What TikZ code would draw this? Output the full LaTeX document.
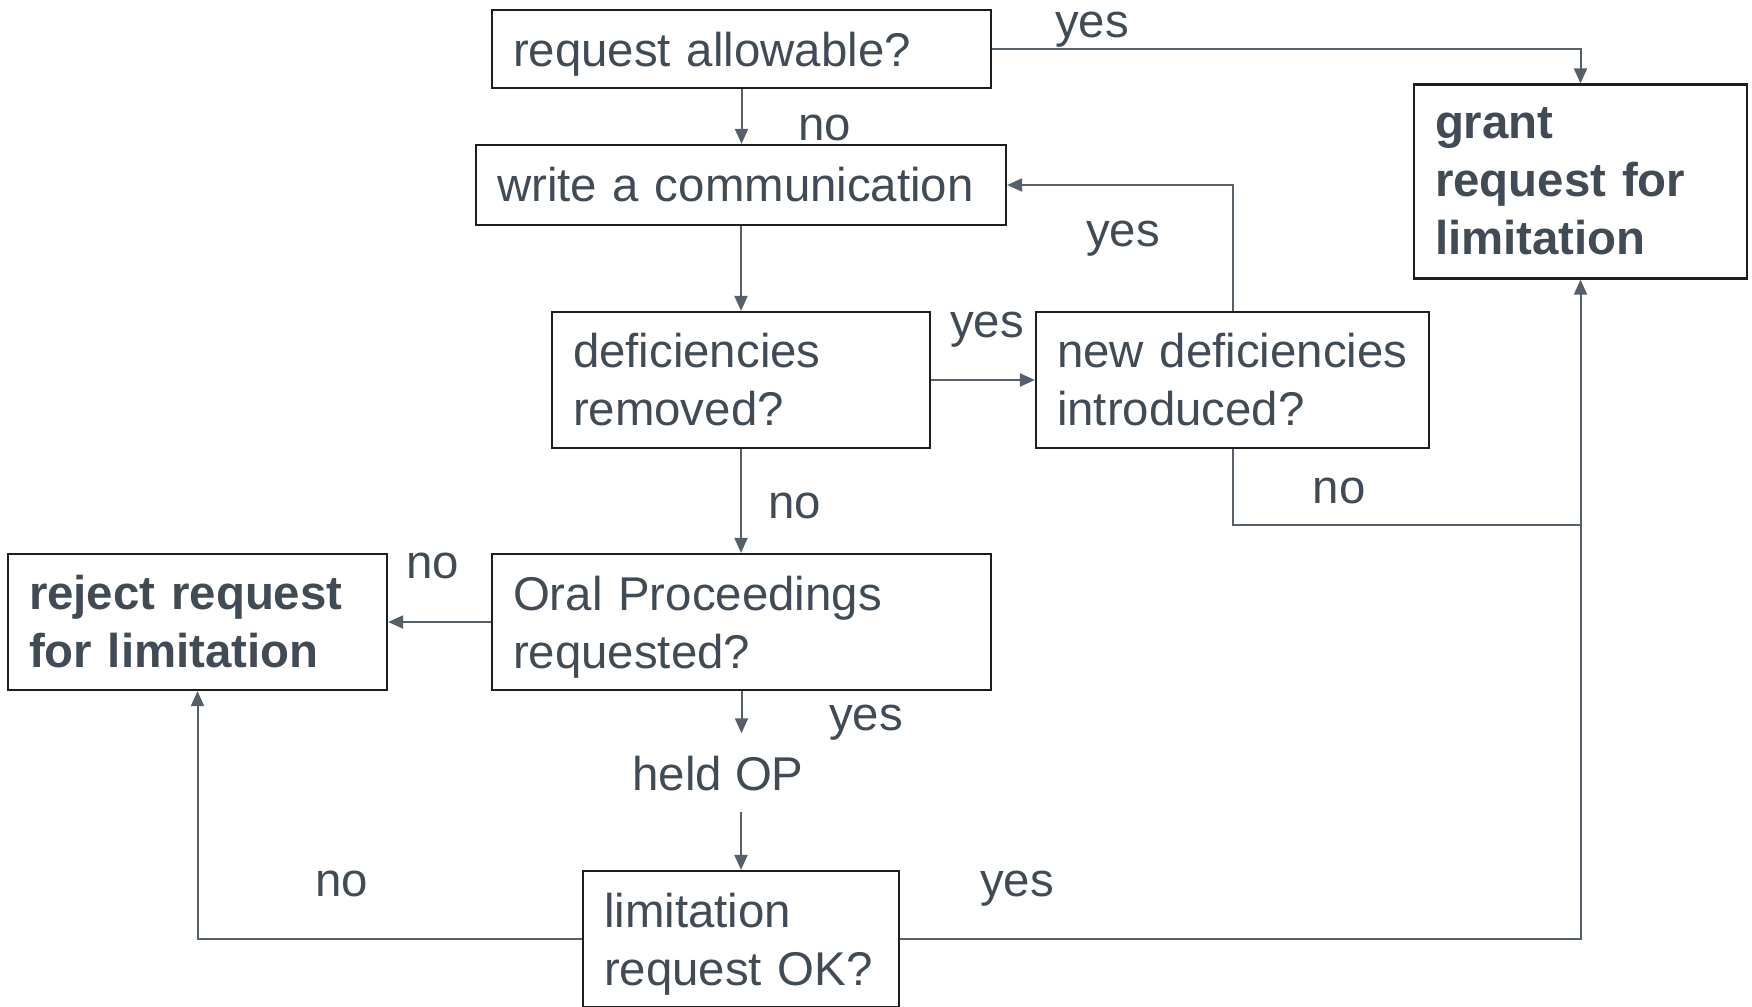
\documentclass[tikz,border=0pt]{standalone}
\usepackage{fontspec}
\setmainfont{Liberation Sans}
\usetikzlibrary{arrows.meta}
\definecolor{txt}{HTML}{414B56}
\definecolor{linec}{HTML}{56606A}
\definecolor{boxc}{HTML}{1E1E1E}
\newcommand{\nodp}[1]{\raisebox{0pt}[\height][0pt]{#1}}
\begin{document}
\begin{tikzpicture}[x=0.5pt,y=-0.5pt,
  box/.style={draw=boxc, line width=1.1pt, rectangle, inner xsep=10.5pt, inner ysep=0pt,
    align=left, text=txt, font=\fontsize{23.7}{29}\selectfont},
  lbl/.style={anchor=base, inner sep=0pt, text=txt, font=\fontsize{23.7}{29}\selectfont},
  arr/.style={draw=linec, line width=1pt, -{Triangle[length=7.5pt,width=6.5pt]}},
  conn/.style={draw=linec, line width=1pt}]
\useasboundingbox (0,0) rectangle (1752,1007);

% boxes
\node[box, minimum width=249.5pt, text width=228.5pt, minimum height=39pt] (req) at (741.5,49) {\nodp{request allowable?}};
\node[box, minimum width=265pt, text width=244pt, minimum height=40pt] (write) at (741,185) {\mbox{write a communication}};
\node[box, minimum width=189pt, text width=168pt, minimum height=68pt] (defrem) at (741,380) {\mbox{deficiencies}\\\mbox{removed?}};
\node[box, minimum width=196.5pt, text width=175.5pt, minimum height=68pt] (newdef) at (1232.5,380) {\mbox{new deficiencies}\\\mbox{introduced?}};
\node[box, minimum width=166.5pt, text width=145.5pt, minimum height=97pt, font=\fontsize{23.7}{29}\selectfont\bfseries] (grant) at (1580.5,181.5) {\mbox{grant}\\\mbox{request for}\\\mbox{limitation}};
\node[box, minimum width=249.5pt, text width=228.5pt, minimum height=68pt] (oral) at (741.5,622) {\mbox{Oral Proceedings}\\\nodp{requested?}};
\node[box, minimum width=189.5pt, text width=168.5pt, minimum height=68pt, font=\fontsize{23.7}{29}\selectfont\bfseries] (reject) at (197.5,622) {\mbox{reject request}\\\mbox{for limitation}};
\node[box, minimum width=158pt, text width=137pt, minimum height=68pt] (limit) at (741,939) {\mbox{limitation}\\\nodp{request OK?}};
\node[lbl, inner ysep=11pt, text depth=0pt] (held) at (718,790) {held OP};
\coordinate (jn) at (1580.5,525);

% connectors
\draw[arr] (req.south) -- (req.south |- write.north);
\draw[arr] (req.east) -| (grant.north);
\draw[arr] (write.south) -- (write.south |- defrem.north);
\draw[arr] (defrem.east) -- (newdef.west);
\draw[arr] (newdef.north) |- (write.east);
\draw[conn] (newdef.south) |- (jn);
\draw[arr] (limit.east) -| (grant.south);
\draw[arr] (limit.west) -| (reject.south);
\draw[arr] (defrem.south) -- (defrem.south |- oral.north);
\draw[arr] (oral.west) -- (reject.east);
\draw[arr] (oral.south) -- (oral.south |- held.north);
\draw[arr] (held.south -| limit.north) -- (limit.north);

% labels
\node[lbl] (l1) at (1092,37) {yes};
\node[lbl] (l2) at (825,140) {no};
\node[lbl] (l3) at (987,337) {yes};
\node[lbl] (l4) at (1123,246) {yes};
\node[lbl] (l5) at (1339,503) {no};
\node[lbl] (l6) at (795,518) {no};
\node[lbl] (l7) at (433,578) {no};
\node[lbl] (l8) at (866,730) {yes};
\node[lbl] (l9) at (342,896) {no};
\node[lbl] (l10) at (1017,896) {yes};
\end{tikzpicture}
\end{document}
